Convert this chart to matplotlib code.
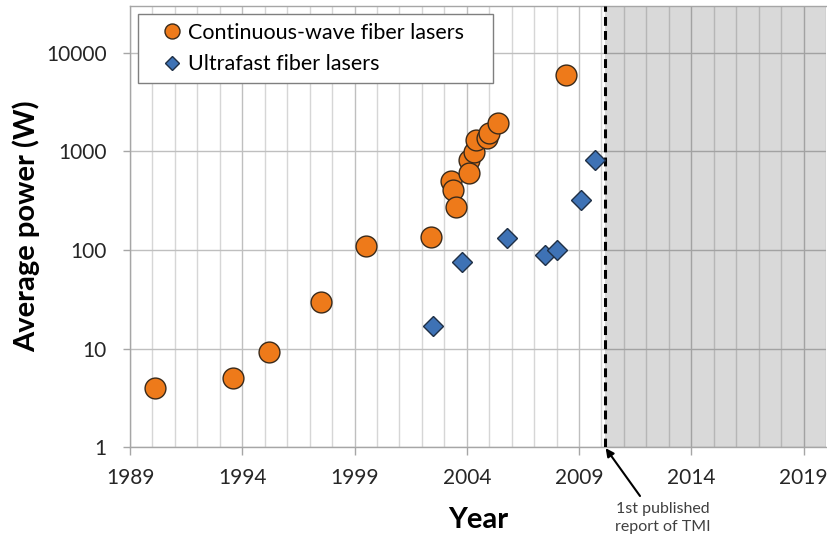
import numpy as np
import matplotlib.pyplot as plt
from matplotlib.ticker import FixedLocator, MultipleLocator, FuncFormatter

plt.rcParams['font.family'] = ['Lato', 'DejaVu Sans']

# continuous-wave fiber lasers: year, average power (W)
cw_year = [1990.1, 1993.6, 1995.2, 1997.5, 1999.5, 2002.4, 2003.3, 2003.4, 2003.5,
           2004.1, 2004.1, 2004.3, 2004.4, 2004.9, 2005.0, 2005.4, 2008.4]
cw_power = [4, 5, 9.3, 30, 110, 136, 500, 406, 271,
            820, 609, 995, 1310, 1360, 1530, 1950, 6000]

# ultrafast fiber lasers
uf_year = [2002.5, 2003.8, 2005.8, 2007.5, 2008.0, 2009.1, 2009.7]
uf_power = [17, 75, 131, 89, 100, 322, 820]

tmi_year = 2010.15
x_ticks = [1989, 1994, 1999, 2004, 2009, 2014, 2019]
y_ticks = [1, 10, 100, 1000, 10000]

fig, ax = plt.subplots(figsize=(8.27, 5.40), dpi=100)
fig.subplots_adjust(left=0.1572, right=0.9988, top=0.9889, bottom=0.1722)

ax.set_yscale('log')
ax.set_xlim(1989, 2020)
ax.set_ylim(1, 30000)

# shaded region after the first TMI report (translucent so grid shows through)
ax.axvspan(tmi_year, 2020, color='black', alpha=0.15, zorder=1, lw=0)
ax.axvline(tmi_year, color='black', lw=2.2, ls=(0, (2.9, 1.7)), zorder=3)

ax.plot(cw_year, cw_power, 'o', ms=15, mfc='#EE7A1A', mec='#3a2a1a', mew=1,
        label='Continuous-wave fiber lasers', zorder=4)
ax.plot(uf_year, uf_power, 'D', ms=10, mfc='#3E72B5', mec='#1f2f45', mew=1,
        label='Ultrafast fiber lasers', zorder=4)

ax.xaxis.set_major_locator(FixedLocator(x_ticks))
ax.xaxis.set_minor_locator(MultipleLocator(1))
ax.yaxis.set_major_locator(FixedLocator(y_ticks))
ax.yaxis.set_minor_locator(FixedLocator([]))
ax.yaxis.set_major_formatter(FuncFormatter(lambda v, p: '%d' % v))

ax.set_axisbelow(True)
ax.grid(which='major', color='#BFBFBF', lw=1)
ax.grid(which='minor', axis='x', color='#D6D6D6', lw=1)

for s in ax.spines.values():
    s.set_color('#A6A6A6')
    s.set_linewidth(1)
ax.spines['right'].set_visible(False)

ax.tick_params(axis='x', which='major', length=6, width=1, color='#A6A6A6',
               pad=9, labelsize=15, labelcolor='#262626')
ax.tick_params(axis='x', which='minor', length=0)
ax.tick_params(axis='y', which='major', length=5, width=1, color='#A6A6A6',
               pad=12, labelsize=15, labelcolor='#262626')

ax.set_xlabel('Year', fontsize=21, fontweight='bold', labelpad=14)
ax.set_ylabel('Average power (W)', fontsize=21, fontweight='bold', labelpad=4)

leg = ax.legend(loc='upper left', bbox_to_anchor=(0.0115, 0.837, 0.510, 0.145),
                mode='expand', borderaxespad=0, fontsize=15.5, markerscale=0.72,
                handlelength=2.4, handletextpad=-0.5, fancybox=False, framealpha=1,
                edgecolor='#7F7F7F', borderpad=0.4, labelspacing=0.55)
leg.get_frame().set_linewidth(1)

ax.text(663, 22, '1st published\nreport of TMI', transform=None, ha='center',
        va='center', fontsize=11.5, color='#404040', linespacing=1.45)
ax.annotate('', xy=(tmi_year, 1), xycoords='data', xytext=(640, 44),
            textcoords='figure pixels', annotation_clip=False,
            arrowprops=dict(arrowstyle='-|>', color='black', lw=1.5,
                            mutation_scale=12, shrinkA=0, shrinkB=1))

fig.savefig('out.png', dpi=100)
